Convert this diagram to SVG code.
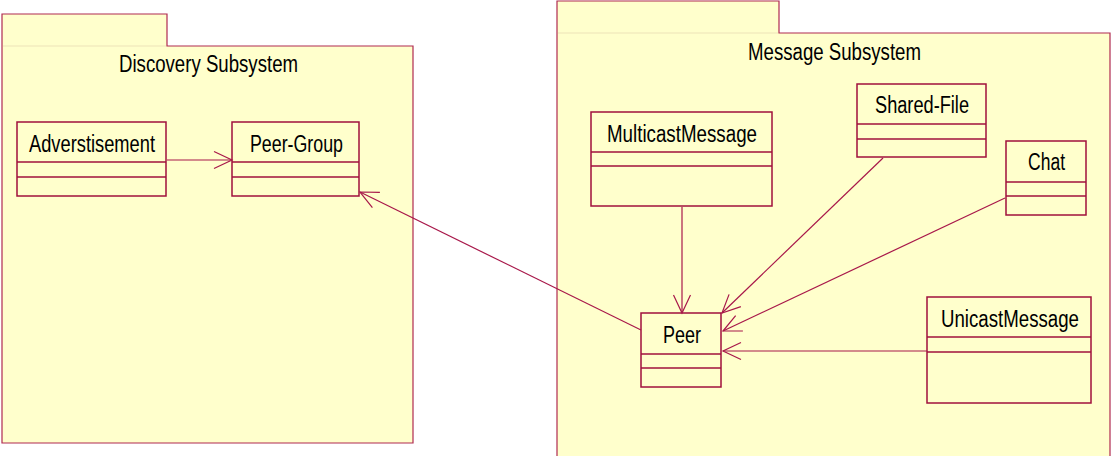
<svg xmlns="http://www.w3.org/2000/svg" width="1112" height="456" viewBox="0 0 1112 456">
  <style>
    .pkg { fill: #FFFFCC; stroke: #B02A50; stroke-width: 1.2; }
    .tabline { fill: none; stroke: #EDE3B8; stroke-width: 1; }
    .cls { fill: #FFFFCC; stroke: #A0103C; stroke-width: 1.5; }
    .div { fill: none; stroke: #A0103C; stroke-width: 1.3; }
    .lbl { font-family: "Liberation Sans", Arial, sans-serif; font-size: 23px; fill: #000000; }
    .conn { fill: none; stroke: #A8184A; stroke-width: 1.2; marker-end: url(#open); }
  </style>
  <defs>
    <marker id="open" markerUnits="userSpaceOnUse" markerWidth="24" markerHeight="24" viewBox="-22 -12 24 24" refX="0" refY="0" orient="auto" overflow="visible">
      <path d="M -18 -8.5 L 0 0 L -18 8.5" fill="none" stroke="#A8184A" stroke-width="1.2"/>
    </marker>
  </defs>
  <rect width="1112" height="456" fill="#FFFFFF"/>

  <g id="discovery-subsystem">
    <path class="pkg" d="M 2 46 V 14 H 167 V 46 H 413 V 443 H 2 Z"/>
    <line class="tabline" x1="3" y1="46" x2="166" y2="46"/>
    <text class="lbl" x="119" y="72" textLength="179" lengthAdjust="spacingAndGlyphs">Discovery Subsystem</text>
  </g>

  <g id="message-subsystem">
    <path class="pkg" d="M 557 460 V 1 H 779 V 33 H 1110 V 460"/>
    <line class="tabline" x1="558" y1="33" x2="778" y2="33"/>
    <text class="lbl" x="748" y="60" textLength="173" lengthAdjust="spacingAndGlyphs">Message Subsystem</text>
  </g>

  <g id="adverstisement">
    <rect class="cls" x="17" y="122" width="149" height="74"/>
    <line class="div" x1="17" y1="162" x2="166" y2="162"/>
    <line class="div" x1="17" y1="177" x2="166" y2="177"/>
    <text class="lbl" x="29" y="152" textLength="126" lengthAdjust="spacingAndGlyphs">Adverstisement</text>
  </g>

  <g id="peer-group">
    <rect class="cls" x="232" y="122" width="127" height="74"/>
    <line class="div" x1="232" y1="162" x2="359" y2="162"/>
    <line class="div" x1="232" y1="177" x2="359" y2="177"/>
    <text class="lbl" x="250" y="152" textLength="93" lengthAdjust="spacingAndGlyphs">Peer-Group</text>
  </g>

  <g id="multicast-message">
    <rect class="cls" x="591" y="112" width="181" height="94"/>
    <line class="div" x1="591" y1="152" x2="772" y2="152"/>
    <line class="div" x1="591" y1="166" x2="772" y2="166"/>
    <text class="lbl" x="607" y="142" textLength="150" lengthAdjust="spacingAndGlyphs">MulticastMessage</text>
  </g>

  <g id="shared-file">
    <rect class="cls" x="857" y="84" width="129" height="73"/>
    <line class="div" x1="857" y1="124" x2="986" y2="124"/>
    <line class="div" x1="857" y1="139" x2="986" y2="139"/>
    <text class="lbl" x="875" y="113" textLength="94" lengthAdjust="spacingAndGlyphs">Shared-File</text>
  </g>

  <g id="chat">
    <rect class="cls" x="1006" y="141" width="80" height="74"/>
    <line class="div" x1="1006" y1="182" x2="1086" y2="182"/>
    <line class="div" x1="1006" y1="196" x2="1086" y2="196"/>
    <text class="lbl" x="1028" y="170" textLength="37" lengthAdjust="spacingAndGlyphs">Chat</text>
  </g>

  <g id="peer">
    <rect class="cls" x="641" y="313" width="80" height="74"/>
    <line class="div" x1="641" y1="354" x2="721" y2="354"/>
    <line class="div" x1="641" y1="368" x2="721" y2="368"/>
    <text class="lbl" x="663" y="343" textLength="38" lengthAdjust="spacingAndGlyphs">Peer</text>
  </g>

  <g id="unicast-message">
    <rect class="cls" x="927" y="297" width="164" height="106"/>
    <line class="div" x1="927" y1="337" x2="1091" y2="337"/>
    <line class="div" x1="927" y1="352" x2="1091" y2="352"/>
    <text class="lbl" x="941" y="327" textLength="138" lengthAdjust="spacingAndGlyphs">UnicastMessage</text>
  </g>

  <g id="connectors">
    <line class="conn" x1="167" y1="160" x2="232" y2="160"/>
    <line class="conn" x1="641" y1="330" x2="360" y2="192"/>
    <line class="conn" x1="682" y1="207" x2="682" y2="313"/>
    <line class="conn" x1="883" y1="158" x2="722" y2="313"/>
    <line class="conn" x1="1005" y1="198" x2="723" y2="331"/>
    <line class="conn" x1="927" y1="351" x2="723" y2="351"/>
  </g>
</svg>
